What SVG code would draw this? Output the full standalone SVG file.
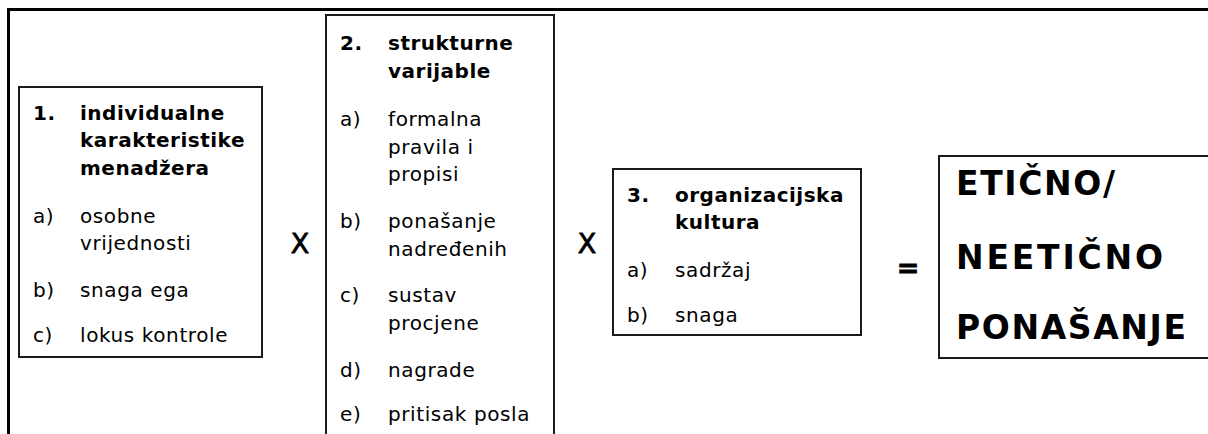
<svg xmlns="http://www.w3.org/2000/svg" width="1208" height="434" viewBox="0 0 1208 434">
<style>
  .box { fill: #ffffff; stroke: #1a1a1a; stroke-width: 2; }
  .frame { fill: none; stroke: #000000; stroke-width: 3; }
  .t { font-family: "DejaVu Sans", Verdana, sans-serif; font-size: 20px; fill: #000; letter-spacing: 0.6px; }
  .b { font-family: "DejaVu Sans", Verdana, sans-serif; font-size: 20px; font-weight: bold; fill: #000; letter-spacing: 0.5px; }
  .op { font-family: "DejaVu Sans", Verdana, sans-serif; font-size: 27px; fill: #000; stroke: #000; stroke-width: 0.8px; }
  .big { font-family: "DejaVu Sans", Verdana, sans-serif; font-size: 33px; font-weight: bold; fill: #000; }
</style>
<rect width="1208" height="434" fill="#ffffff"/>
<path class="frame" d="M8.5,434 V9.5 H1208"/>

<g id="node-individual">
  <rect class="box" x="19" y="87" width="243" height="270"/>
  <text class="b" x="33" y="120">1.</text>
  <text class="b" x="80" y="120">individualne</text>
  <text class="b" x="80" y="147">karakteristike</text>
  <text class="b" x="80" y="175">menadžera</text>
  <text class="t" x="33" y="223">a)</text>
  <text class="t" x="80" y="223">osobne</text>
  <text class="t" x="80" y="250">vrijednosti</text>
  <text class="t" x="33" y="297">b)</text>
  <text class="t" x="80" y="297">snaga ega</text>
  <text class="t" x="33" y="342">c)</text>
  <text class="t" x="80" y="342">lokus kontrole</text>
</g>

<g id="node-structural">
  <rect class="box" x="326" y="15" width="228" height="440"/>
  <text class="b" x="340" y="50">2.</text>
  <text class="b" x="388" y="50">strukturne</text>
  <text class="b" x="388" y="78">varijable</text>
  <text class="t" x="340" y="126">a)</text>
  <text class="t" x="388" y="126">formalna</text>
  <text class="t" x="388" y="154">pravila i</text>
  <text class="t" x="388" y="181">propisi</text>
  <text class="t" x="340" y="228">b)</text>
  <text class="t" x="388" y="228">ponašanje</text>
  <text class="t" x="388" y="256">nadređenih</text>
  <text class="t" x="340" y="302">c)</text>
  <text class="t" x="388" y="302">sustav</text>
  <text class="t" x="388" y="330">procjene</text>
  <text class="t" x="340" y="377">d)</text>
  <text class="t" x="388" y="377">nagrade</text>
  <text class="t" x="340" y="421">e)</text>
  <text class="t" x="388" y="421">pritisak posla</text>
</g>

<g id="node-culture">
  <rect class="box" x="613" y="169" width="248" height="166"/>
  <text class="b" x="627" y="202">3.</text>
  <text class="b" x="675" y="202">organizacijska</text>
  <text class="b" x="675" y="229">kultura</text>
  <text class="t" x="627" y="277">a)</text>
  <text class="t" x="675" y="277">sadržaj</text>
  <text class="t" x="627" y="322">b)</text>
  <text class="t" x="675" y="322">snaga</text>
</g>

<g id="node-result">
  <rect class="box" x="939" y="156" width="300" height="202"/>
  <text class="big" x="956" y="195" textLength="159" lengthAdjust="spacing">ETIČNO/</text>
  <text class="big" x="956" y="269" textLength="207" lengthAdjust="spacing">NEETIČNO</text>
  <text class="big" x="956" y="339" textLength="230" lengthAdjust="spacing">PONAŠANJE</text>
</g>

<g id="connectors">
  <text class="op" x="300" y="253" text-anchor="middle">X</text>
  <text class="op" x="587" y="253" text-anchor="middle">X</text>
  <text class="op" x="908" y="277" text-anchor="middle" font-weight="bold">=</text>
</g>
</svg>
